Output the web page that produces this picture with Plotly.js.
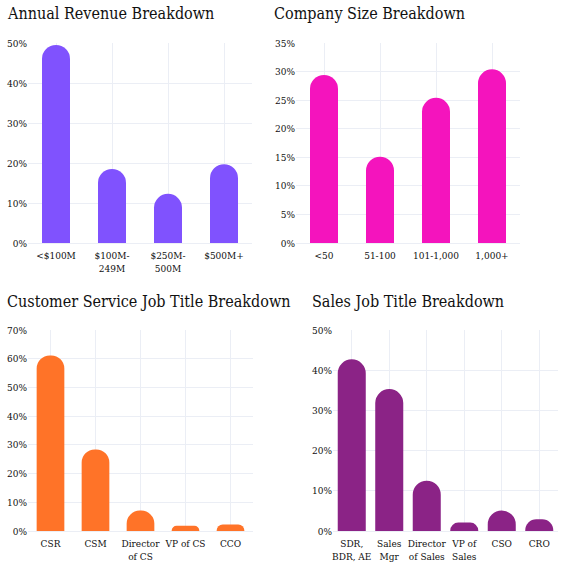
<!DOCTYPE html>
<html>
<head>
<meta charset="utf-8">
<script src="https://cdn.plot.ly/plotly-3.0.1.min.js"></script>
<style>html,body{margin:0;padding:0;background:#fff;}#chart{width:563px;height:566px;}</style>
</head>
<body>
<div id="chart"></div>
<script>
// Data
const revenueCategories = ['<$100M', '$100M-<br>249M', '$250M-<br>500M', '$500M+'];
const revenueValues = [49.5, 18.5, 12.3, 19.7];

const sizeCategories = ['<50', '51-100', '101-1,000', '1,000+'];
const sizeValues = [29.4, 15.1, 25.4, 30.4];

const csCategories = ['CSR', 'CSM', 'Director<br>of CS', 'VP of CS', 'CCO'];
const csValues = [61.1, 28.4, 7.1, 1.8, 2.3];

const salesCategories = ['SDR,<br>BDR, AE', 'Sales<br>Mgr', 'Director<br>of Sales', 'VP of<br>Sales', 'CSO', 'CRO'];
const salesValues = [42.7, 35.3, 12.5, 2.1, 5.1, 2.9];

const titles = ['Annual Revenue Breakdown', 'Company Size Breakdown', 'Customer Service Job Title Breakdown', 'Sales Job Title Breakdown'];

const W = 563, H = 566;
const font = 'DejaVu Serif Condensed, DejaVu Serif, serif';
const grid = '#EBEEF5';

function px(a, b) { return [a / W, b / W]; }
function py(top, bottom) { return [1 - bottom / H, 1 - top / H]; }

const traces = [
  {type: 'bar', x: revenueCategories, y: revenueValues, xaxis: 'x', yaxis: 'y', width: 0.5,
   marker: {color: '#8052FE', cornerradius: '50%'}},
  {type: 'bar', x: sizeCategories, y: sizeValues, xaxis: 'x2', yaxis: 'y2', width: 0.5,
   marker: {color: '#F414BD', cornerradius: '50%'}},
  {type: 'bar', x: csCategories, y: csValues, xaxis: 'x3', yaxis: 'y3', width: 0.615,
   marker: {color: '#FF7328', cornerradius: '50%'}},
  {type: 'bar', x: salesCategories, y: salesValues, xaxis: 'x4', yaxis: 'y4', width: 0.747,
   marker: {color: '#8B2386', cornerradius: '50%'}}
];

function xa(dom, anchor) {
  return {domain: dom, anchor: anchor, showgrid: true, gridcolor: grid, showline: false,
          zeroline: false, ticks: 'outside', ticklen: 3, tickcolor: 'rgba(0,0,0,0)',
          tickfont: {family: font, size: 10, color: '#111'},
          fixedrange: true, tickangle: 0};
}
function ya(dom, anchor, max, dtick) {
  return {domain: dom, anchor: anchor, range: [0, max], dtick: dtick, ticksuffix: '%',
          showgrid: true, gridcolor: grid, zeroline: true, zerolinecolor: grid, zerolinewidth: 1,
          ticks: '', tickfont: {family: font, size: 10, color: '#111'}, fixedrange: true};
}

const layout = {
  width: W, height: H,
  margin: {l: 0, r: 0, t: 0, b: 0},
  paper_bgcolor: '#fff', plot_bgcolor: '#fff',
  showlegend: false,
  font: {family: font, color: '#111'},
  xaxis: xa(px(28, 252), 'y'),
  yaxis: ya(py(43, 243), 'x', 50, 10),
  xaxis2: xa(px(296, 520), 'y2'),
  yaxis2: ya(py(43, 243), 'x2', 35, 5),
  xaxis3: xa(px(28, 253), 'y3'),
  yaxis3: ya(py(330, 531), 'x3', 70, 10),
  xaxis4: xa(px(333, 558), 'y4'),
  yaxis4: ya(py(330, 531), 'x4', 50, 10),
  annotations: [
    {text: titles[0], x: 5 / W, y: 1 - 13 / H},
    {text: titles[1], x: 272 / W, y: 1 - 13 / H},
    {text: titles[2], x: 5 / W, y: 1 - 301 / H},
    {text: titles[3], x: 310 / W, y: 1 - 301 / H}
  ].map(a => Object.assign({xref: 'paper', yref: 'paper', xanchor: 'left', yanchor: 'middle',
    showarrow: false, font: {family: font, size: 16, color: '#111'}}, a))
};

Plotly.newPlot('chart', traces, layout, {displayModeBar: false, staticPlot: true});
</script>
</body>
</html>
